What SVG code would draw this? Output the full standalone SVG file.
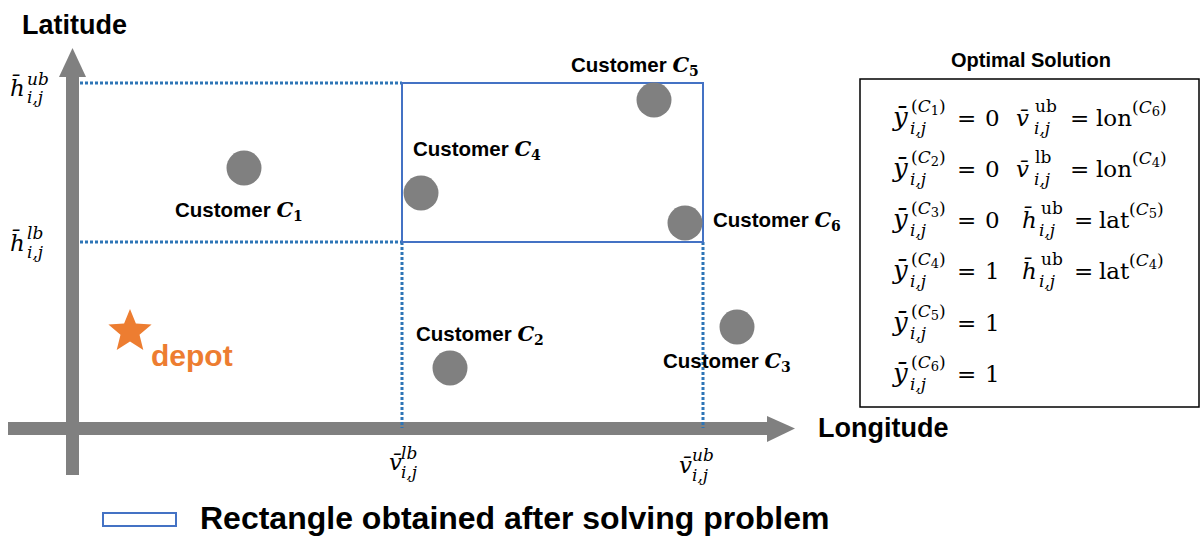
<svg xmlns="http://www.w3.org/2000/svg" width="1200" height="536" viewBox="0 0 1200 536">
<style>
.sans{font-family:"Liberation Sans",Arial,sans-serif;font-weight:bold;fill:#000}
.cust{font-family:"Liberation Sans",Arial,sans-serif;font-weight:bold;font-size:20.5px;fill:#000}
.mc{font-family:"DejaVu Serif","Liberation Serif",serif;font-style:italic;font-weight:bold;font-size:21px}
.ms{font-family:"DejaVu Serif","Liberation Serif",serif;font-weight:bold;font-size:14px}
.m{font-family:"DejaVu Serif","Liberation Serif",serif;font-size:23px;fill:#000}
.y{font-size:26px;font-style:italic}
.s{font-size:17px}
.ss{font-size:13px}
.i{font-style:italic}
.dot{stroke:#2e75b6;stroke-width:3;stroke-dasharray:3 2;fill:none}
.pt{fill:#808080}
.axis{fill:#808080}
</style>

<g id="axes">
  <rect class="axis" x="66" y="76" width="13" height="399"/>
  <polygon class="axis" points="59,77 72.5,48 86,77"/>
  <rect class="axis" x="8" y="422" width="760" height="13"/>
  <polygon class="axis" points="767,416 795,428.5 767,442"/>
  <text class="sans" x="22" y="34" font-size="27">Latitude</text>
  <text class="sans" x="818" y="437" font-size="27">Longitude</text>
</g>

<g id="connectors">
  <line class="dot" x1="80" y1="83" x2="402" y2="83"/>
  <line class="dot" x1="80" y1="242" x2="402" y2="242"/>
  <line class="dot" x1="402" y1="242" x2="402" y2="428"/>
  <line class="dot" x1="703" y1="242" x2="703" y2="428"/>
</g>

<g id="bound-labels">
  <text class="m i" x="10" y="96">h&#x304;</text>
  <text class="m s i" x="27" y="85">ub</text>
  <text class="m s i" x="27" y="103">i,j</text>
  <text class="m i" x="10" y="251">h&#x304;</text>
  <text class="m s i" x="27" y="239">lb</text>
  <text class="m s i" x="27" y="258">i,j</text>
  <text class="m i" x="389" y="470">v&#x304;</text>
  <text class="m s i" x="401" y="459">lb</text>
  <text class="m s i" x="401" y="478">i,j</text>
  <text class="m i" x="679" y="473">v&#x304;</text>
  <text class="m s i" x="692" y="461">ub</text>
  <text class="m s i" x="692" y="481">i,j</text>
</g>

<g id="rectangle">
  <rect x="402" y="83" width="301" height="159" fill="none" stroke="#4472c4" stroke-width="2"/>
</g>

<g id="depot">
  <polygon fill="#ed7d31" points="130,309 135.9,323.6 151.6,324.6 139.5,334.7 143.3,350 130,341.6 116.7,350 120.5,334.7 108.4,324.6 124.1,323.6"/>
  <text class="sans" x="151" y="366" font-size="30" style="fill:#ed7d31">depot</text>
</g>

<g id="customer-c1">
  <circle class="pt" cx="244" cy="168" r="17.5"/>
  <text class="cust" x="175" y="217">Customer <tspan class="mc">C</tspan><tspan class="ms" dy="4">1</tspan></text>
</g>
<g id="customer-c2">
  <circle class="pt" cx="450" cy="368" r="17.5"/>
  <text class="cust" x="416" y="341">Customer <tspan class="mc">C</tspan><tspan class="ms" dy="4">2</tspan></text>
</g>
<g id="customer-c3">
  <circle class="pt" cx="737" cy="327" r="17.5"/>
  <text class="cust" x="663" y="368">Customer <tspan class="mc">C</tspan><tspan class="ms" dy="4">3</tspan></text>
</g>
<g id="customer-c4">
  <circle class="pt" cx="421" cy="193" r="17.5"/>
  <text class="cust" x="413" y="156">Customer <tspan class="mc">C</tspan><tspan class="ms" dy="4">4</tspan></text>
</g>
<g id="customer-c5">
  <circle class="pt" cx="654" cy="100" r="17.5"/>
  <text class="cust" x="571" y="72">Customer <tspan class="mc">C</tspan><tspan class="ms" dy="4">5</tspan></text>
</g>
<g id="customer-c6">
  <circle class="pt" cx="685" cy="223" r="17.5"/>
  <text class="cust" x="713" y="227">Customer <tspan class="mc">C</tspan><tspan class="ms" dy="4">6</tspan></text>
</g>

<g id="optimal-solution">
  <text class="sans" x="1031" y="67" font-size="20" text-anchor="middle">Optimal Solution</text>
  <rect x="860" y="79" width="339" height="328" fill="none" stroke="#000" stroke-width="1.5"/>
  <!-- row 1 -->
  <text class="m y" x="893" y="126">&#x233;</text>
  <text class="m s" x="911" y="112">(<tspan class="i">C</tspan><tspan class="ss" dy="3">1</tspan><tspan dy="-3">)</tspan></text>
  <text class="m s i" x="910" y="134">i,j</text>
  <text class="m" x="957" y="126">=</text><text class="m" x="985" y="126">0</text>
  <text class="m i" x="1016" y="126">v&#x304;</text>
  <text class="m s" x="1035" y="112">ub</text>
  <text class="m s i" x="1034" y="134">i,j</text>
  <text class="m" x="1070" y="126">=</text>
  <text class="m" x="1096" y="126">lon</text>
  <text class="m s" x="1132" y="113">(<tspan class="i">C</tspan><tspan class="ss" dy="3">6</tspan><tspan dy="-3">)</tspan></text>
  <!-- row 2 -->
  <text class="m y" x="893" y="177">&#x233;</text>
  <text class="m s" x="911" y="163">(<tspan class="i">C</tspan><tspan class="ss" dy="3">2</tspan><tspan dy="-3">)</tspan></text>
  <text class="m s i" x="910" y="185">i,j</text>
  <text class="m" x="957" y="177">=</text><text class="m" x="985" y="177">0</text>
  <text class="m i" x="1016" y="177">v&#x304;</text>
  <text class="m s" x="1035" y="163">lb</text>
  <text class="m s i" x="1034" y="185">i,j</text>
  <text class="m" x="1070" y="177">=</text>
  <text class="m" x="1096" y="177">lon</text>
  <text class="m s" x="1132" y="164">(<tspan class="i">C</tspan><tspan class="ss" dy="3">4</tspan><tspan dy="-3">)</tspan></text>
  <!-- row 3 -->
  <text class="m y" x="893" y="228">&#x233;</text>
  <text class="m s" x="911" y="214">(<tspan class="i">C</tspan><tspan class="ss" dy="3">3</tspan><tspan dy="-3">)</tspan></text>
  <text class="m s i" x="910" y="236">i,j</text>
  <text class="m" x="957" y="228">=</text><text class="m" x="985" y="228">0</text>
  <text class="m i" x="1022" y="228">h&#x304;</text>
  <text class="m s" x="1041" y="214">ub</text>
  <text class="m s i" x="1039" y="236">i,j</text>
  <text class="m" x="1074" y="228">=</text>
  <text class="m" x="1099" y="228">lat</text>
  <text class="m s" x="1129" y="215">(<tspan class="i">C</tspan><tspan class="ss" dy="3">5</tspan><tspan dy="-3">)</tspan></text>
  <!-- row 4 -->
  <text class="m y" x="893" y="279">&#x233;</text>
  <text class="m s" x="911" y="265">(<tspan class="i">C</tspan><tspan class="ss" dy="3">4</tspan><tspan dy="-3">)</tspan></text>
  <text class="m s i" x="910" y="287">i,j</text>
  <text class="m" x="957" y="279">=</text><text class="m" x="985" y="279">1</text>
  <text class="m i" x="1022" y="279">h&#x304;</text>
  <text class="m s" x="1041" y="265">ub</text>
  <text class="m s i" x="1039" y="287">i,j</text>
  <text class="m" x="1074" y="279">=</text>
  <text class="m" x="1099" y="279">lat</text>
  <text class="m s" x="1129" y="266">(<tspan class="i">C</tspan><tspan class="ss" dy="3">4</tspan><tspan dy="-3">)</tspan></text>
  <!-- row 5 -->
  <text class="m y" x="893" y="331">&#x233;</text>
  <text class="m s" x="911" y="317">(<tspan class="i">C</tspan><tspan class="ss" dy="3">5</tspan><tspan dy="-3">)</tspan></text>
  <text class="m s i" x="910" y="339">i,j</text>
  <text class="m" x="957" y="331">=</text><text class="m" x="985" y="331">1</text>
  <!-- row 6 -->
  <text class="m y" x="893" y="382">&#x233;</text>
  <text class="m s" x="911" y="368">(<tspan class="i">C</tspan><tspan class="ss" dy="3">6</tspan><tspan dy="-3">)</tspan></text>
  <text class="m s i" x="910" y="390">i,j</text>
  <text class="m" x="957" y="382">=</text><text class="m" x="985" y="382">1</text>
</g>

<g id="legend">
  <rect x="103" y="513" width="73" height="13" fill="none" stroke="#4472c4" stroke-width="2"/>
  <text class="sans" x="200" y="529" font-size="32">Rectangle obtained after solving problem</text>
</g>
</svg>
